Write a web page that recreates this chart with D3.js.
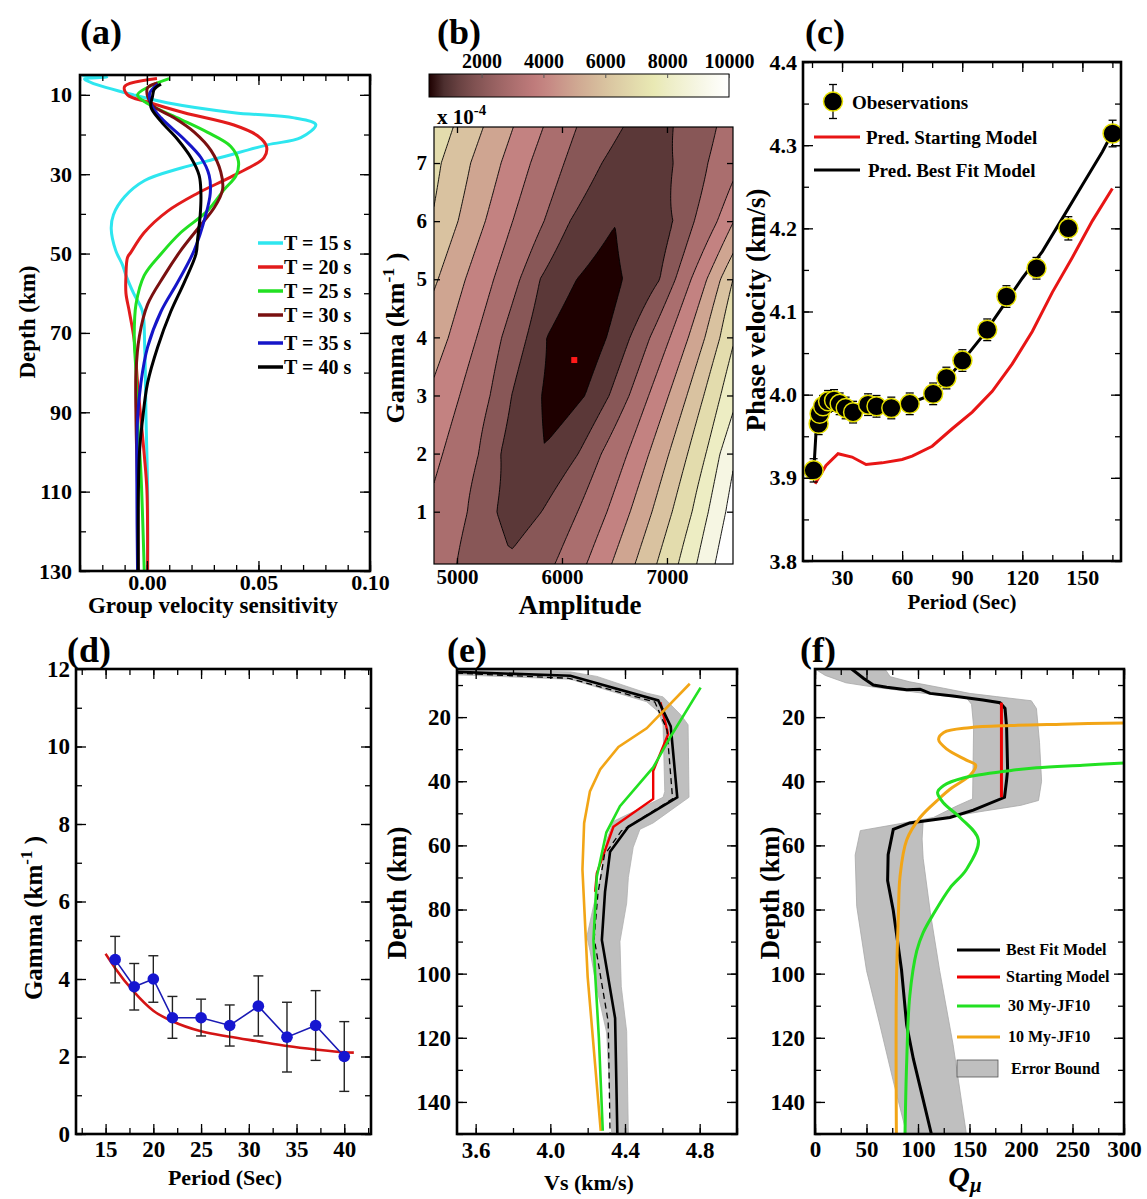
<!DOCTYPE html>
<html>
<head>
<meta charset="utf-8">
<script src="https://cdn.jsdelivr.net/npm/d3@7"></script>
<style>
  body { margin: 0; background: #fff; }
  text { font-family: "Liberation Serif", "Times New Roman", serif; font-weight: bold; fill: #000; }
</style>
</head>
<body>
<svg id="fig" width="1147" height="1199"></svg>
<script>
/* ---------------- panel (a): group velocity sensitivity kernels [value, depth] ---------------- */
const sensLabels = ['T = 15 s', 'T = 20 s', 'T = 25 s', 'T = 30 s', 'T = 35 s', 'T = 40 s'];
const sensColors = ['#2ee6ef', '#e21b1b', '#22e022', '#7a1010', '#1515c8', '#000000'];
const sensT15 = [[-0.029,5.2],[-0.018,5.5],[-0.028,6.0],[-0.025,6.9],[-0.006,10],[0.009,12],[0.039,14.5],[0.066,15.8],[0.0757,17.5],[0.069,20.8],[0.054,22.6],[0.033,25.8],[0.015,28.5],[-0.001,31.6],[-0.010,35.7],[-0.015,40.2],[-0.016,43.8],[-0.014,49.2],[-0.011,52.8],[-0.0094,55.5],[-0.006,60],[-0.002,64.6],[-0.001,73.6],[-0.0004,91.6],[0.0003,109.7],[0.0003,130]];
const sensT20 = [[0.0045,5.9],[-0.010,7.9],[-0.0087,10],[0.0003,11.8],[0.0167,14.5],[0.039,17.6],[0.0496,20.3],[0.0536,23],[0.0525,25.8],[0.039,30.3],[0.0227,34.8],[0.0093,39.3],[-0.0012,44.7],[-0.0072,49.7],[-0.0087,51],[-0.0094,55.5],[-0.0094,60],[-0.0079,64.6],[-0.0057,71.8],[-0.0042,82.6],[-0.0027,91.6],[-0.0012,100.7],[0,109.7],[0.0003,130]];
const sensT25 = [[0.010,5.9],[0.0018,7.7],[-0.0042,10],[0.0003,12.2],[0.0137,15.8],[0.027,19.4],[0.0376,23],[0.041,26.7],[0.040,30.3],[0.0346,33.9],[0.027,39.3],[0.0152,44.7],[0.0063,50.1],[-0.0012,55.5],[-0.0049,62.8],[-0.0057,70.9],[-0.0049,79.9],[-0.0042,91.6],[-0.0027,105.2],[-0.0012,130]];
const sensT30 = [[0.0048,7],[0.0003,8.2],[0.0003,10.4],[0.0025,12.7],[0.0122,15.8],[0.0212,19.4],[0.0287,24],[0.0331,29.4],[0.0339,33.9],[0.0302,38.4],[0.0227,43.8],[0.0152,49.2],[0.0078,55.5],[0.0003,62.8],[-0.0034,70.9],[-0.0049,79.9],[-0.0049,91.6],[-0.0042,109.7],[-0.0039,130]];
const sensT35 = [[0.005,7.3],[0.0013,9.5],[0.002,12.5],[0.0063,15.8],[0.0167,21.2],[0.0242,25.8],[0.0279,30.3],[0.0284,34.8],[0.0264,40.2],[0.0212,49.2],[0.0137,57.3],[0.0063,64.6],[0.0003,73.6],[-0.0027,82.6],[-0.0042,91.6],[-0.0045,109.7],[-0.0042,130]];
const sensT40 = [[0.0063,7.3],[0.0033,8.6],[0.0025,10.4],[0.0018,13.1],[0.0063,16.7],[0.0137,21.2],[0.0197,25.8],[0.0234,30.3],[0.0242,34.8],[0.0239,40.2],[0.0227,46.5],[0.022,50.1],[0.0167,57.3],[0.0107,64.6],[0.0048,73.6],[0.0003,82.6],[-0.0019,91.6],[-0.0034,100.7],[-0.0039,130]];
const sensCurves = [sensT15, sensT20, sensT25, sensT30, sensT35, sensT40];

/* ---------------- panel (b): misfit surface, amplitude vs gamma ---------------- */
const ampTicks = [5000, 6000, 7000];
const gammaTicks = [1, 2, 3, 4, 5, 6, 7];
const cbarTicks = [2000, 4000, 6000, 8000, 10000];
const misfitLevelsK = [0, 1, 2, 3, 4, 5, 6, 7, 8, 9, 10];       // contour levels, x1000
const misfitRowGamma = [0.1, 1, 2, 3, 4, 5, 6, 7, 7.62];
const misfitRowKnotsK = [
  [[4781,3.55],[4997,3],[5480,2.12],[5934,3],[6235,4],[6473,5],[6696,6],[6902,7],[7108,8],[7283,9],[7458,10],[7629,11]],
  [[4781,3.8],[5100,3],[5378,2],[5592,1.6],[5806,2],[6150,3],[6430,4],[6650,5],[6858,6],[7050,7],[7240,8],[7394,9],[7560,10],[7629,10.4]],
  [[4781,4.25],[4864,4],[5207,3],[5416,2],[5800,1.1],[6156,2],[6375,3],[6623,4],[6829,5],[7019,6],[7197,7],[7372,8],[7505,9],[7629,9.8]],
  [[4781,4.8],[5026,4],[5316,3],[5520,2],[5806,1],[6010,0.45],[6219,1],[6450,2],[6640,3],[6826,4],[7016,5],[7190,6],[7351,7],[7511,8],[7629,8.7]],
  [[4781,5.45],[4918,5],[5188,4],[5426,3],[5664,2],[5854,1],[6130,0.3],[6426,1],[6648,2],[6838,3],[7029,4],[7204,5],[7362,6],[7505,7],[7629,7.85]],
  [[4781,6.15],[4820,6],[5080,5],[5350,4],[5600,3],[5790,2],[6140,1],[6360,0.65],[6578,1],[6933,2],[7080,3],[7230,4],[7380,5],[7510,6],[7629,7]],
  [[4781,6.9],[5010,6],[5270,5],[5530,4],[5830,3],[6076,2],[6520,1.03],[7057,2],[7260,3],[7480,4],[7629,4.95]],
  [[4781,7.25],[4850,7],[5130,6],[5420,5],[5700,4],[6020,3],[6380,2],[6700,1.35],[7060,2],[7390,3],[7629,3.75]],
  [[4781,7.63],[4965,7],[5251,6],[5537,5],[5822,4],[6140,3],[6584,2],[6820,1.5],[7060,2],[7473,3],[7629,3.4]]
];
const bestAmp = 6117, bestGamma = 3.61;

/* ---------------- panel (c): phase velocity ---------------- */
const obsPeriod = [15.8,18.3,18.8,20.5,23,26,28.8,31.8,35.5,43,47.2,54.6,63.8,75.5,82.1,90.1,102.5,112.1,127.1,143,165.1];
const obsVel = [3.909,3.965,3.977,3.986,3.992,3.993,3.989,3.984,3.979,3.988,3.986,3.984,3.989,4.001,4.02,4.041,4.078,4.118,4.152,4.2,4.314];
const obsErr = [0.014,0.013,0.013,0.013,0.013,0.013,0.013,0.013,0.013,0.013,0.013,0.013,0.013,0.013,0.013,0.013,0.013,0.013,0.013,0.014,0.016];
const predBest = [[15.8,3.905],[17,3.955],[18.5,3.972],[20.5,3.985],[24,3.992],[28,3.99],[32,3.984],[36,3.981],[43,3.986],[50,3.985],[55,3.985],[64,3.99],[75,4.0],[82,4.018],[90,4.04],[100,4.07],[110,4.105],[120,4.14],[130,4.172],[140,4.212],[150,4.252],[160,4.292],[165,4.315]];
const predStart = [[16.5,3.893],[22,3.915],[28,3.929],[35,3.925],[42,3.916],[50,3.918],[60,3.922],[65,3.926],[75,3.938],[85,3.959],[95,3.979],[105,4.004],[115,4.037],[125,4.076],[135,4.123],[145,4.165],[155,4.209],[165,4.248]];

/* ---------------- panel (d): gamma vs period ---------------- */
const gammaPeriod = [16, 18, 20, 22, 25, 28, 31, 34, 37, 40];
const gammaObs = [4.5, 3.8, 4.0, 3.0, 3.0, 2.8, 3.3, 2.5, 2.8, 2.0];
const gammaHi = [5.1, 4.4, 4.6, 3.55, 3.48, 3.33, 4.08, 3.4, 3.7, 2.9];
const gammaLo = [3.9, 3.2, 3.4, 2.47, 2.53, 2.27, 2.53, 1.6, 1.9, 1.1];
const gammaFitPeriod = [15, 16, 18, 20, 22, 25, 28, 31, 34, 37, 40, 41];
const gammaFit = [4.65, 4.28, 3.66, 3.18, 2.91, 2.65, 2.51, 2.39, 2.27, 2.18, 2.11, 2.1];

/* ---------------- panel (e): Vs profiles [Vs, depth] ---------------- */
const vsBest = [[3.5,5.9],[4.107,7.1],[4.578,14.8],[4.645,22.9],[4.68,45],[4.418,54.2],[4.32,62],[4.293,74.5],[4.276,89.5],[4.347,113.9],[4.359,150]];
const vsMean = [[3.5,6.3],[4.1,7.9],[4.56,15.3],[4.625,24],[4.655,45.5],[4.38,55.5],[4.29,63],[4.255,75],[4.235,89],[4.31,115],[4.32,150]];
const vsStart = [[4.59,15.4],[4.631,25.3],[4.551,36.8],[4.551,45.5],[4.338,54.2],[4.249,68.7],[4.24,74.5]];
const vsJF30 = [[4.805,10.8],[4.647,25.8],[4.551,35.7],[4.373,47.8],[4.3,56],[4.249,69.8],[4.231,89.5],[4.24,100],[4.26,120],[4.281,149]];
const vsJF10 = [[4.747,9.6],[4.516,23.5],[4.365,29.3],[4.267,36.3],[4.212,43.2],[4.181,53.1],[4.172,67.5],[4.2,101],[4.27,149]];
const vsBandHi = [[3.5,5.2],[4.107,5.9],[4.249,7.3],[4.516,12.5],[4.604,13.7],[4.702,19.5],[4.738,22.4],[4.743,45],[4.551,53],[4.48,55],[4.444,60.6],[4.418,70],[4.409,78],[4.373,90],[4.38,104],[4.409,118],[4.418,150]];
const vsBandLo = [[3.5,6.8],[4.107,8.2],[4.516,15.2],[4.578,18.3],[4.604,22.4],[4.613,43.2],[4.604,45],[4.462,49],[4.338,52.5],[4.302,58.3],[4.267,70],[4.231,79],[4.196,88.4],[4.213,93],[4.249,104.6],[4.302,118.5],[4.329,150]];

/* ---------------- panel (f): Q profiles [Q, depth] ---------------- */
const qBest = [[35.6,5],[47,7.9],[56.6,10],[69.6,10.7],[89,11.5],[102,11.3],[111.7,12.6],[134,13.4],[163,14.7],[179.6,15.5],[184.5,17.3],[186,23],[187,36.3],[186,39.7],[184,45],[153.7,49],[131,51.3],[92,53],[76,55],[71,62.9],[70.5,71],[76,80.3],[84,98.8],[89,116],[95.5,126.6],[105,139.3],[113,150]];
const qStart = [[181,15.5],[181,30],[181,45]];
const qJF30 = [[300,34.3],[260,35],[215,35.8],[189,36.7],[144,39],[125,41.3],[119,43.5],[124.6,46.7],[140.8,51.3],[158.6,58.3],[147,67.5],[131,73.3],[115,81.4],[105,87.2],[98.7,93],[92,107],[89,127.7],[87.4,150]];
const qJF10 = [[300,21.8],[240,22.2],[190,22.6],[150,23.3],[125,24.8],[120,27],[128,30],[147,33.4],[156,35],[151,38],[131,42.5],[121,45.3],[102,51.3],[89,58.3],[82.5,69.8],[81,81.4],[79,104.6],[79,150]];
const qBandHi = [[68,5],[73,7.4],[92,9],[125,11],[150,12.6],[176,13.6],[210,14.9],[215,17.3],[218,28],[220,40],[217,46],[200,47.5],[160,49.5],[105,52.5],[104,58],[105,64],[112,81],[121,99],[134,122],[147,150]];
const qBandLo = [[0,5],[10,7],[30,9.3],[60,10.8],[92,12],[125,13.4],[147,14],[152,16],[154,23],[153,45.5],[137,47.8],[115,51.3],[76,53.6],[44,55.4],[39,63],[40.5,79],[50,99],[63,116],[76,133.5],[89,150]];
const qLegend = ['Best Fit Model', 'Starting Model', '30 My-JF10', '10 My-JF10'];
const qLegendColors = ['#000000', '#ee0000', '#22e022', '#f2a516'];

/* ---------------- helpers ---------------- */
const FONT = '"Liberation Serif","Times New Roman",serif';
const svg = d3.select('#fig');

// matlab-style "pink" colormap
function pinkMap(t) {
    t = Math.max(0, Math.min(1, t));
    const cl = v => Math.max(0, Math.min(1, v));
    const hr = Math.min(1, t / 0.375 + 1 / 24), hg = cl((t - 0.375) / 0.375), hb = cl((t - 0.75) / 0.25);
    const f = h => Math.round(255 * Math.sqrt((2 * t + h) / 3));
    return `rgb(${f(hr)},${f(hg)},${f(hb)})`;
}
const cbarMin = 300, cbarMax = 10000;
const misfitColor = v => pinkMap((v - cbarMin) / (cbarMax - cbarMin));

function stepRange(a, b, s) {
    return d3.range(Math.round((b - a) / s) + 1).map(i => +(a + i * s).toFixed(4));
}

function addAxes(g, p, xs, ys, c) {
    const fs = c.fontSize || 23;
    const majL = c.majorLen || 10, minL = c.minorLen || 6;
    const none = () => '';
    const style = sel => {
        sel.select('.domain').remove();
        sel.selectAll('line').attr('stroke', '#000').attr('stroke-width', 1.3);
        sel.selectAll('text').style('font-family', FONT).style('font-weight', 'bold')
            .style('font-size', fs + 'px').attr('fill', '#000');
    };
    const mk = (axisFn, scale, vals, len, fmt, pad, tr) => g.append('g').attr('transform', tr)
        .call(axisFn(scale).tickValues(vals).tickSize(-len).tickPadding(pad).tickFormat(fmt)).call(style);
    const bottom = `translate(0,${p.y1})`, top = `translate(0,${p.y0})`;
    const left = `translate(${p.x0},0)`, right = `translate(${p.x1},0)`;
    if (c.xMinor) {
        mk(d3.axisBottom, xs, c.xMinor, minL, none, 0, bottom);
        mk(d3.axisTop, xs, c.xMinor, minL, none, 0, top);
    }
    if (c.yMinor) {
        mk(d3.axisLeft, ys, c.yMinor, minL, none, 0, left);
        mk(d3.axisRight, ys, c.yMinor, minL, none, 0, right);
    }
    mk(d3.axisBottom, xs, c.xMajor, majL, c.xFmt, c.xPad, bottom);
    mk(d3.axisTop, xs, c.xMajor, majL, none, 0, top);
    mk(d3.axisLeft, ys, c.yMajor, majL, c.yFmt, c.yPad, left);
    mk(d3.axisRight, ys, c.yMajor, majL, none, 0, right);
    g.append('rect').attr('x', p.x0).attr('y', p.y0).attr('width', p.x1 - p.x0).attr('height', p.y1 - p.y0)
        .attr('fill', 'none').attr('stroke', '#000').attr('stroke-width', 2.6);
}

function clipFor(id, p) {
    svg.append('clipPath').attr('id', id).append('rect')
        .attr('x', p.x0).attr('y', p.y0).attr('width', p.x1 - p.x0).attr('height', p.y1 - p.y0);
    return svg.append('g').attr('clip-path', `url(#${id})`);
}

function label(txt, x, y, size, opts = {}) {
    const t = svg.append('text').attr('x', x).attr('y', y).style('font-size', size + 'px')
        .attr('text-anchor', opts.anchor || 'start');
    if (opts.rotate) t.attr('transform', `rotate(-90,${x},${y})`);
    if (opts.italic) t.style('font-style', 'italic');
    t.text(txt);
    return t;
}

function rotLabelSup(x, y, size, pre, sup, post) {
    const t = svg.append('text').attr('x', x).attr('y', y).attr('text-anchor', 'middle')
        .attr('transform', `rotate(-90,${x},${y})`).style('font-size', size + 'px');
    t.append('tspan').text(pre);
    t.append('tspan').attr('dy', -size * 0.4).style('font-size', (size * 0.68) + 'px').text(sup);
    t.append('tspan').attr('dy', size * 0.4).text(post);
}

/* ---------------- panel (a) ---------------- */
(function () {
    const p = { x0: 80, x1: 370, y0: 75, y1: 571 };
    const xs = d3.scaleLinear().domain([-0.03, 0.10]).range([p.x0, p.x1]);
    const ys = d3.scaleLinear().domain([5, 130]).range([p.y0, p.y1]);
    const g = clipFor('clipA', p);
    const line = d3.line().x(d => xs(d[0])).y(d => ys(d[1])).curve(d3.curveCatmullRom.alpha(0.5));
    sensCurves.forEach((c, i) => {
        g.append('path').datum(c).attr('d', line).attr('fill', 'none')
            .attr('stroke', sensColors[i]).attr('stroke-width', 3);
    });
    const ax = svg.append('g');
    addAxes(ax, p, xs, ys, {
        xMajor: [0, 0.05, 0.10], xMinor: stepRange(-0.03, 0.10, 0.01), xFmt: d3.format('.2f'), xPad: 3,
        yMajor: [10, 30, 50, 70, 90, 110, 130], yMinor: stepRange(10, 130, 10), yFmt: d3.format('d'), yPad: 8,
        fontSize: 22
    });
    const rows = [243, 267, 291, 315, 343, 367];
    sensLabels.forEach((t, i) => {
        svg.append('line').attr('x1', 258).attr('x2', 283).attr('y1', rows[i]).attr('y2', rows[i])
            .attr('stroke', sensColors[i]).attr('stroke-width', 3.5);
        label(t, 284, rows[i] + 7, 20);
    });
    label('(a)', 80, 44, 36);
    label('Depth (km)', 35, 322, 23, { rotate: true, anchor: 'middle' });
    label('Group velocity sensitivity', 213, 613, 23, { anchor: 'middle' });
})();

/* ---------------- panel (b) ---------------- */
(function () {
    const p = { x0: 434, x1: 733, y0: 127, y1: 564 };
    const aLo = 4781, aHi = 7629, gLo = 0.1, gHi = 7.62;
    const xs = d3.scaleLinear().domain([aLo, aHi]).range([p.x0, p.x1]);
    const ys = d3.scaleLinear().domain([gLo, gHi]).range([p.y1, p.y0]);

    // grid of misfit values built from the row crossing tables;
    // rows are blended along the slant of the contour lines (amplitude shift per unit gamma)
    const shear = 180;
    const nx = 150, ny = 160;
    const rowAt = (knots, a) => {
        const n = knots.length;
        let k = 1;
        if (a > knots[0][0]) { while (k < n - 1 && a > knots[k][0]) k++; }
        const [a0, v0] = knots[k - 1], [a1, v1] = knots[k];
        return v0 + (v1 - v0) * (a - a0) / (a1 - a0);
    };
    const grid = new Array(nx * ny);
    for (let j = 0; j < ny; j++) {
        const gm = gLo + j * (gHi - gLo) / (ny - 1);
        let r = d3.bisectRight(misfitRowGamma, gm) - 1;
        r = Math.max(0, Math.min(r, misfitRowGamma.length - 2));
        const g0 = misfitRowGamma[r], g1 = misfitRowGamma[r + 1];
        const t = (gm - g0) / (g1 - g0);
        for (let i = 0; i < nx; i++) {
            const a = aLo + i * (aHi - aLo) / (nx - 1);
            const v0 = rowAt(misfitRowKnotsK[r], a - shear * (gm - g0));
            const v1 = rowAt(misfitRowKnotsK[r + 1], a + shear * (g1 - gm));
            grid[j * nx + i] = (1 - t) * v0 + t * v1;
        }
    }
    const contours = d3.contours().size([nx, ny]).thresholds(misfitLevelsK)(grid);
    const proj = d3.geoTransform({
        point(x, y) {
            this.stream.point(xs(aLo + (x - 0.5) * (aHi - aLo) / (nx - 1)), ys(gLo + (y - 0.5) * (gHi - gLo) / (ny - 1)));
        }
    });
    const path = d3.geoPath(proj);
    const g = clipFor('clipB', p);
    g.selectAll('path.band').data(contours).enter().append('path').attr('class', 'band')
        .attr('d', path)
        .attr('fill', d => d.value === 0 ? misfitColor(cbarMin) : misfitColor(d.value * 1000))
        .attr('stroke', d => d.value === 0 ? 'none' : '#000')
        .attr('stroke-width', 0.9);
    g.append('rect').attr('x', xs(bestAmp) - 3).attr('y', ys(bestGamma) - 3)
        .attr('width', 6).attr('height', 6).attr('fill', '#ff1a1a');

    const ax = svg.append('g');
    addAxes(ax, p, xs, ys, {
        xMajor: ampTicks, xFmt: d3.format('d'), xPad: 5,
        yMajor: gammaTicks, yFmt: d3.format('d'), yPad: 7,
        majorLen: 6, fontSize: 21
    });
    ax.selectAll('rect').attr('stroke-width', 1.2);

    // colorbar
    const cb = { x0: 429, x1: 729, y0: 74, y1: 97 };
    const cx = d3.scaleLinear().domain([cbarMin, cbarMax]).range([cb.x0, cb.x1]);
    const grad = svg.append('defs').append('linearGradient').attr('id', 'pinkGrad');
    d3.range(0, 1.0001, 0.05).forEach(t => {
        grad.append('stop').attr('offset', t).attr('stop-color', pinkMap(t));
    });
    svg.append('rect').attr('x', cb.x0).attr('y', cb.y0).attr('width', cb.x1 - cb.x0).attr('height', cb.y1 - cb.y0)
        .attr('fill', 'url(#pinkGrad)').attr('stroke', '#000').attr('stroke-width', 1);
    const cbAxis = svg.append('g').attr('transform', `translate(0,${cb.y0})`)
        .call(d3.axisTop(cx).tickValues(cbarTicks).tickSize(-4).tickPadding(6).tickFormat(d3.format('d')));
    cbAxis.select('.domain').remove();
    cbAxis.selectAll('line').attr('stroke', '#555');
    cbAxis.selectAll('text').style('font-family', FONT).style('font-weight', 'bold').style('font-size', '20px').attr('fill', '#000');

    const xt = svg.append('text').attr('x', 437).attr('y', 124).style('font-size', '21px');
    xt.append('tspan').text('x 10');
    xt.append('tspan').attr('dy', -9).style('font-size', '15px').text('-4');

    label('(b)', 437, 44, 36);
    rotLabelSup(404, 338, 26, 'Gamma (km', '-1', ' )');
    label('Amplitude', 580, 614, 27, { anchor: 'middle' });
})();

/* ---------------- panel (c) ---------------- */
(function () {
    const p = { x0: 803, x1: 1121, y0: 62, y1: 561 };
    const xs = d3.scaleLinear().domain([10.5, 169.3]).range([p.x0, p.x1]);
    const ys = d3.scaleLinear().domain([3.8, 4.4]).range([p.y1, p.y0]);
    const g = clipFor('clipC', p);
    const line = d3.line().x(d => xs(d[0])).y(d => ys(d[1]));
    g.append('path').datum(predStart).attr('d', line).attr('fill', 'none').attr('stroke', '#e81515').attr('stroke-width', 3);
    g.append('path').datum(predBest).attr('d', line).attr('fill', 'none').attr('stroke', '#000').attr('stroke-width', 3);
    const obs = obsPeriod.map((t, i) => ({ t, v: obsVel[i], e: obsErr[i] }));
    const eb = g.selectAll('g.eb').data(obs).enter().append('g').attr('class', 'eb');
    eb.append('line').attr('x1', d => xs(d.t)).attr('x2', d => xs(d.t))
        .attr('y1', d => ys(d.v - d.e)).attr('y2', d => ys(d.v + d.e)).attr('stroke', '#000').attr('stroke-width', 1.3);
    [-1, 1].forEach(s => {
        eb.append('line').attr('x1', d => xs(d.t) - 4).attr('x2', d => xs(d.t) + 4)
            .attr('y1', d => ys(d.v + s * d.e)).attr('y2', d => ys(d.v + s * d.e)).attr('stroke', '#000').attr('stroke-width', 1.3);
    });
    g.selectAll('circle.obs').data(obs).enter().append('circle').attr('class', 'obs')
        .attr('cx', d => xs(d.t)).attr('cy', d => ys(d.v)).attr('r', 9.5)
        .attr('fill', '#000').attr('stroke', '#e6e000').attr('stroke-width', 1.5);

    const ax = svg.append('g');
    addAxes(ax, p, xs, ys, {
        xMajor: [30, 60, 90, 120, 150], xMinor: stepRange(15, 165, 15), xFmt: d3.format('d'), xPad: 8,
        yMajor: stepRange(3.8, 4.4, 0.1), yMinor: stepRange(3.8, 4.4, 0.05), yFmt: d3.format('.1f'), yPad: 6,
        fontSize: 22
    });

    // legend
    const lx = 833, ly = 101.5;
    svg.append('line').attr('x1', lx).attr('x2', lx).attr('y1', ly - 17).attr('y2', ly + 17).attr('stroke', '#000').attr('stroke-width', 1.3);
    [-17, 17].forEach(o => svg.append('line').attr('x1', lx - 4).attr('x2', lx + 4).attr('y1', ly + o).attr('y2', ly + o)
        .attr('stroke', '#000').attr('stroke-width', 1.3));
    svg.append('circle').attr('cx', lx).attr('cy', ly).attr('r', 9.5).attr('fill', '#000')
        .attr('stroke', '#e6e000').attr('stroke-width', 1.5);
    label('Obeservations', 852, ly + 7, 19);
    svg.append('line').attr('x1', 814).attr('x2', 860).attr('y1', 137).attr('y2', 137).attr('stroke', '#e81515').attr('stroke-width', 3);
    label('Pred. Starting Model', 866, 144, 19);
    svg.append('line').attr('x1', 814).attr('x2', 860).attr('y1', 170).attr('y2', 170).attr('stroke', '#000').attr('stroke-width', 3);
    label('Pred. Best Fit Model', 868, 177, 19);

    label('(c)', 805, 44, 36);
    label('Phase velocity (km/s)', 765, 310, 27, { rotate: true, anchor: 'middle' });
    label('Period (Sec)', 962, 609, 21, { anchor: 'middle' });
})();

/* ---------------- panel (d) ---------------- */
(function () {
    const p = { x0: 76, x1: 371, y0: 669, y1: 1134 };
    const xs = d3.scaleLinear().domain([11.9, 42.8]).range([p.x0, p.x1]);
    const ys = d3.scaleLinear().domain([0, 12]).range([p.y1, p.y0]);
    const g = clipFor('clipD', p);
    const fit = gammaFitPeriod.map((t, i) => [t, gammaFit[i]]);
    const obs = gammaPeriod.map((t, i) => ({ t, v: gammaObs[i], lo: gammaLo[i], hi: gammaHi[i] }));
    g.append('path').datum(fit).attr('d', d3.line().x(d => xs(d[0])).y(d => ys(d[1])).curve(d3.curveMonotoneX))
        .attr('fill', 'none').attr('stroke', '#d41414').attr('stroke-width', 2.6);
    g.append('path').datum(obs).attr('d', d3.line().x(d => xs(d.t)).y(d => ys(d.v)))
        .attr('fill', 'none').attr('stroke', '#1a1ab4').attr('stroke-width', 1.6);
    const eb = g.selectAll('g.eb').data(obs).enter().append('g');
    eb.append('line').attr('x1', d => xs(d.t)).attr('x2', d => xs(d.t)).attr('y1', d => ys(d.lo)).attr('y2', d => ys(d.hi))
        .attr('stroke', '#222').attr('stroke-width', 1.4);
    ['lo', 'hi'].forEach(k => eb.append('line').attr('x1', d => xs(d.t) - 5).attr('x2', d => xs(d.t) + 5)
        .attr('y1', d => ys(d[k])).attr('y2', d => ys(d[k])).attr('stroke', '#222').attr('stroke-width', 1.4));
    g.selectAll('circle').data(obs).enter().append('circle').attr('cx', d => xs(d.t)).attr('cy', d => ys(d.v))
        .attr('r', 5.8).attr('fill', '#1616d0');

    const ax = svg.append('g');
    addAxes(ax, p, xs, ys, {
        xMajor: [15, 20, 25, 30, 35, 40], xMinor: stepRange(12.5, 42.5, 2.5), xFmt: d3.format('d'), xPad: 7,
        yMajor: stepRange(0, 12, 2), yMinor: stepRange(0, 12, 1), yFmt: d3.format('d'), yPad: 6,
        fontSize: 23
    });
    label('(d)', 67, 662, 36);
    rotLabelSup(42, 918, 25, 'Gamma (km', '-1', ' )');
    label('Period (Sec)', 225, 1185, 22, { anchor: 'middle' });
})();

/* ---------------- panel (e) ---------------- */
(function () {
    const p = { x0: 457, x1: 737, y0: 669, y1: 1134 };
    const xs = d3.scaleLinear().domain([3.5, 5.0]).range([p.x0, p.x1]);
    const ys = d3.scaleLinear().domain([5, 150]).range([p.y0, p.y1]);
    const g = clipFor('clipE', p);
    const line = d3.line().x(d => xs(d[0])).y(d => ys(d[1]));
    const band = vsBandHi.concat(vsBandLo.slice().reverse());
    g.append('path').datum(band).attr('d', d3.line().x(d => xs(d[0])).y(d => ys(d[1])).curve(d3.curveLinearClosed))
        .attr('fill', '#bfbfbf').attr('stroke', '#b0b0b0').attr('stroke-width', 0.8);
    g.append('path').datum(vsStart).attr('d', line).attr('fill', 'none').attr('stroke', '#ee0000').attr('stroke-width', 2.4);
    g.append('path').datum(vsMean).attr('d', line).attr('fill', 'none').attr('stroke', '#000').attr('stroke-width', 1.3)
        .attr('stroke-dasharray', '6,4');
    g.append('path').datum(vsBest).attr('d', line).attr('fill', 'none').attr('stroke', '#000').attr('stroke-width', 2.6);
    g.append('path').datum(vsJF10).attr('d', line).attr('fill', 'none').attr('stroke', '#f2a516').attr('stroke-width', 2.6);
    g.append('path').datum(vsJF30).attr('d', line).attr('fill', 'none').attr('stroke', '#22e022').attr('stroke-width', 2.6);

    const ax = svg.append('g');
    addAxes(ax, p, xs, ys, {
        xMajor: [3.6, 4.0, 4.4, 4.8], xMinor: stepRange(3.6, 5.0, 0.2), xFmt: d3.format('.1f'), xPad: 8,
        yMajor: stepRange(20, 140, 20), yMinor: stepRange(10, 150, 10), yFmt: d3.format('d'), yPad: 6,
        fontSize: 23
    });
    label('(e)', 447, 662, 36);
    label('Depth (km)', 406, 893, 27, { rotate: true, anchor: 'middle' });
    label('Vs (km/s)', 589, 1190, 22, { anchor: 'middle' });
})();

/* ---------------- panel (f) ---------------- */
(function () {
    const p = { x0: 815, x1: 1124, y0: 669, y1: 1134 };
    const xs = d3.scaleLinear().domain([0, 300]).range([p.x0, p.x1]);
    const ys = d3.scaleLinear().domain([5, 150]).range([p.y0, p.y1]);
    const g = clipFor('clipF', p);
    const line = d3.line().x(d => xs(d[0])).y(d => ys(d[1]));
    const band = qBandHi.concat(qBandLo.slice().reverse());
    g.append('path').datum(band).attr('d', d3.line().x(d => xs(d[0])).y(d => ys(d[1])).curve(d3.curveLinearClosed))
        .attr('fill', '#bfbfbf').attr('stroke', '#a8a8a8').attr('stroke-width', 0.8);
    g.append('path').datum(qBest).attr('d', line).attr('fill', 'none').attr('stroke', '#000').attr('stroke-width', 3);
    g.append('path').datum(qStart).attr('d', line).attr('fill', 'none').attr('stroke', '#ee0000').attr('stroke-width', 3);
    g.append('path').datum(qJF10).attr('d', line.curve(d3.curveCatmullRom)).attr('fill', 'none').attr('stroke', '#f2a516').attr('stroke-width', 3);
    g.append('path').datum(qJF30).attr('d', line.curve(d3.curveCatmullRom)).attr('fill', 'none').attr('stroke', '#22e022').attr('stroke-width', 3);

    const ax = svg.append('g');
    addAxes(ax, p, xs, ys, {
        xMajor: stepRange(0, 300, 50), xMinor: stepRange(0, 300, 25), xFmt: d3.format('d'), xPad: 7,
        yMajor: stepRange(20, 140, 20), yMinor: stepRange(10, 150, 10), yFmt: d3.format('d'), yPad: 10,
        fontSize: 23
    });

    // legend
    const rows = [950, 977, 1006, 1037];
    qLegend.forEach((t, i) => {
        svg.append('line').attr('x1', 957).attr('x2', 1000).attr('y1', rows[i]).attr('y2', rows[i])
            .attr('stroke', qLegendColors[i]).attr('stroke-width', 3);
        label(t, 1006 + (i > 1 ? 2 : 0), rows[i] + 5, 16);
    });
    svg.append('rect').attr('x', 957).attr('y', 1060).attr('width', 41).attr('height', 17)
        .attr('fill', '#bfbfbf').attr('stroke', '#555').attr('stroke-width', 0.8);
    label('Error Bound', 1011, 1074, 16);

    label('(f)', 800, 662, 36);
    label('Depth (km)', 779, 893, 27, { rotate: true, anchor: 'middle' });
    const q = svg.append('text').attr('x', 965).attr('y', 1187).attr('text-anchor', 'middle')
        .style('font-size', '30px').style('font-style', 'italic');
    q.append('tspan').text('Q');
    q.append('tspan').attr('dy', 5).style('font-size', '21px').text('μ');
})();
</script>
</body>
</html>
